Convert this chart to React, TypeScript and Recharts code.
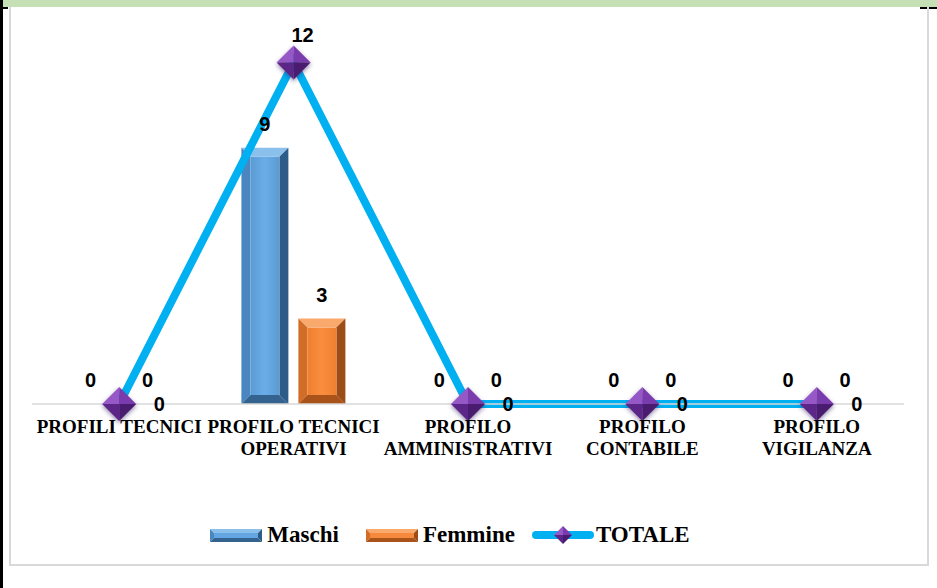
import React from "react";
import { Bar, ComposedChart, LabelList, Line, XAxis, YAxis } from "recharts";

const categories = [
  "PROFILI TECNICI",
  "PROFILO TECNICI OPERATIVI",
  "PROFILO AMMINISTRATIVI",
  "PROFILO CONTABILE",
  "PROFILO VIGILANZA",
];
const maschi = [0, 9, 0, 0, 0];
const femmine = [0, 3, 0, 0, 0];
const totale = [0, 12, 0, 0, 0];

const data = categories.map((name, i) => ({
  name,
  Maschi: maschi[i],
  Femmine: femmine[i],
  TOTALE: totale[i],
}));

const serif = "'Liberation Serif', 'Times New Roman', serif";
const sans = "'Liberation Sans', Arial, sans-serif";

const palettes = {
  blue: { face: "#64a6e2", top: "#8cc0ec", left: "#4a86bf", right: "#2e5c88", bottom: "#34638f" },
  orange: { face: "#f68a3c", top: "#f9a96b", left: "#d26d27", right: "#9c4c17", bottom: "#a9531a" },
};

function bevelShape(kind: "blue" | "orange") {
  return (props: any) => {
    const { x, y, width: w, height: h } = props;
    if (!h || h <= 0) return <g />;
    const c = palettes[kind];
    const b = Math.min(9, w / 2, h / 2);
    const p = (pts: number[][]) => pts.map((q) => q.join(",")).join(" ");
    return (
      <g>
        <polygon points={p([[x, y], [x + w, y], [x + w - b, y + b], [x + b, y + b]])} fill={c.top} />
        <polygon points={p([[x, y], [x + b, y + b], [x + b, y + h - b], [x, y + h]])} fill={c.left} />
        <polygon points={p([[x + w, y], [x + w, y + h], [x + w - b, y + h - b], [x + w - b, y + b]])} fill={c.right} />
        <polygon points={p([[x, y + h], [x + b, y + h - b], [x + w - b, y + h - b], [x + w, y + h]])} fill={c.bottom} />
        <rect x={x + b} y={y + b} width={w - 2 * b} height={h - 2 * b} fill={`url(#face-${kind})`} />
      </g>
    );
  };
}

function Diamond({ cx, cy, r }: { cx: number; cy: number; r: number }) {
  return (
    <g filter="url(#glow)">
      <polygon points={`${cx},${cy - r} ${cx},${cy} ${cx - r},${cy}`} fill="#9558c6" />
      <polygon points={`${cx},${cy - r} ${cx + r},${cy} ${cx},${cy}`} fill="#7a3aad" />
      <polygon points={`${cx - r},${cy} ${cx},${cy} ${cx},${cy + r}`} fill="#5c2588" />
      <polygon points={`${cx},${cy} ${cx + r},${cy} ${cx},${cy + r}`} fill="#4a1b70" />
    </g>
  );
}

const renderDot = (props: any) => {
  const { cx, cy, index } = props;
  if (cx == null || cy == null) return <g key={index} />;
  return <Diamond key={index} cx={cx} cy={cy} r={17} />;
};

const barLabel = (props: any) => {
  const { x, y, width, value } = props;
  return (
    <text x={x + width / 2} y={y - 17} textAnchor="middle" fontFamily={sans} fontWeight="bold" fontSize={20} fill="#000">
      {value}
    </text>
  );
};

const lineLabel = (props: any) => {
  const { x, y, value } = props;
  if (value === 0) {
    return (
      <text x={x + 40} y={y + 7} textAnchor="middle" fontFamily={sans} fontWeight="bold" fontSize={20} fill="#000">
        {value}
      </text>
    );
  }
  return (
    <text x={x + 9} y={y - 20} textAnchor="middle" fontFamily={sans} fontWeight="bold" fontSize={20} fill="#000">
      {value}
    </text>
  );
};

function wrap(label: string, max = 16) {
  const lines: string[] = [];
  let cur = "";
  for (const w of label.split(" ")) {
    const next = cur ? cur + " " + w : w;
    if (next.length > max && cur) {
      lines.push(cur);
      cur = w;
    } else cur = next;
  }
  if (cur) lines.push(cur);
  return lines;
}

const CategoryTick = (props: any) => {
  const { x, y, payload } = props;
  const lines = wrap(payload.value);
  return (
    <g>
      {lines.map((l, i) => (
        <text key={i} x={x} y={y + 21 + i * 22} textAnchor="middle" fontFamily={serif} fontWeight="bold" fontSize={19} fill="#000">
          {l}
        </text>
      ))}
    </g>
  );
};

function LegendBar({ kind }: { kind: "blue" | "orange" }) {
  const c = palettes[kind];
  return (
    <svg width={52} height={13} style={{ display: "block" }}>
      <polygon points="0,0 52,0 48,4 4,4" fill={c.top} />
      <rect x={4} y={4} width={44} height={5} fill={c.face} />
      <polygon points="0,0 4,4 4,9 0,13" fill={c.left} />
      <polygon points="52,0 52,13 48,9 48,4" fill={c.right} />
      <polygon points="0,13 4,9 48,9 52,13" fill={c.bottom} />
    </svg>
  );
}

export default function App() {
  return (
    <div style={{ position: "absolute", left: 0, top: 0, width: 937, height: 588, background: "#fff", overflow: "hidden" }}>
      <div style={{ position: "absolute", left: 0, top: 0, width: 937, height: 7, background: "#c5e0b4" }} />
      <div style={{ position: "absolute", left: 0, top: 0, width: 3, height: 588, background: "#000" }} />
      <div style={{ position: "absolute", left: 0, top: 7, width: 8, height: 2, background: "#000" }} />
      <div style={{ position: "absolute", left: 920, top: 7, width: 17, height: 2, background: "#000" }} />
      <div style={{ position: "absolute", left: 9, top: 7, width: 916, height: 557, border: "2px solid #d9d9d9", borderTop: "none" }} />
      <div style={{ position: "absolute", left: 0, top: 0 }}>
        <ComposedChart width={937} height={588} data={data} margin={{ top: 34, right: 33, bottom: 144, left: 32 }} barSize={47} barGap={10}>
          <defs>
            <linearGradient id="face-blue" x1="0" y1="0" x2="1" y2="0">
              <stop offset="0" stopColor="#5b9ad3" />
              <stop offset="0.5" stopColor="#6aaee8" />
              <stop offset="1" stopColor="#5b9ad3" />
            </linearGradient>
            <linearGradient id="face-orange" x1="0" y1="0" x2="1" y2="0">
              <stop offset="0" stopColor="#ee7f31" />
              <stop offset="0.5" stopColor="#fb8e3e" />
              <stop offset="1" stopColor="#ee7f31" />
            </linearGradient>
            <filter id="glow" x="-50%" y="-50%" width="200%" height="200%">
              <feDropShadow dx="0" dy="2" stdDeviation="2" floodColor="#3a2a6a" floodOpacity="0.55" />
            </filter>
          </defs>
          <XAxis dataKey="name" axisLine={{ stroke: "#d9d9d9", strokeWidth: 1.5 }} tickLine={false} tick={<CategoryTick />} interval={0} height={40} />
          <YAxis hide domain={[0, 13]} />
          <Bar dataKey="Maschi" fill="#5b9bd5" shape={bevelShape("blue")} isAnimationActive={false}>
            <LabelList dataKey="Maschi" content={barLabel} />
          </Bar>
          <Bar dataKey="Femmine" fill="#ed7d31" shape={bevelShape("orange")} isAnimationActive={false}>
            <LabelList dataKey="Femmine" content={barLabel} />
          </Bar>
          <Line dataKey="TOTALE" stroke="#00b0f0" strokeWidth={8} dot={renderDot} activeDot={false} isAnimationActive={false}>
            <LabelList dataKey="TOTALE" content={lineLabel} />
          </Line>
        </ComposedChart>
      </div>
      <div style={{ position: "absolute", left: 0, top: 522, width: 900, display: "flex", justifyContent: "center", alignItems: "center", fontFamily: serif, fontWeight: "bold", fontSize: 23, color: "#000" }}>
        <LegendBar kind="blue" />
        <span style={{ marginLeft: 5, marginRight: 27 }}>Maschi</span>
        <LegendBar kind="orange" />
        <span style={{ marginLeft: 5, marginRight: 17 }}>Femmine</span>
        <svg width={62} height={20} style={{ display: "block" }}>
          <line x1={4} y1={10} x2={58} y2={10} stroke="#00b0f0" strokeWidth={8} strokeLinecap="round" />
          <polygon points="31,1 31,10 22,10" fill="#9558c6" />
          <polygon points="31,1 40,10 31,10" fill="#7a3aad" />
          <polygon points="22,10 31,10 31,19" fill="#5c2588" />
          <polygon points="31,10 40,10 31,19" fill="#4a1b70" />
        </svg>
        <span style={{ marginLeft: 2 }}>TOTALE</span>
      </div>
    </div>
  );
}
